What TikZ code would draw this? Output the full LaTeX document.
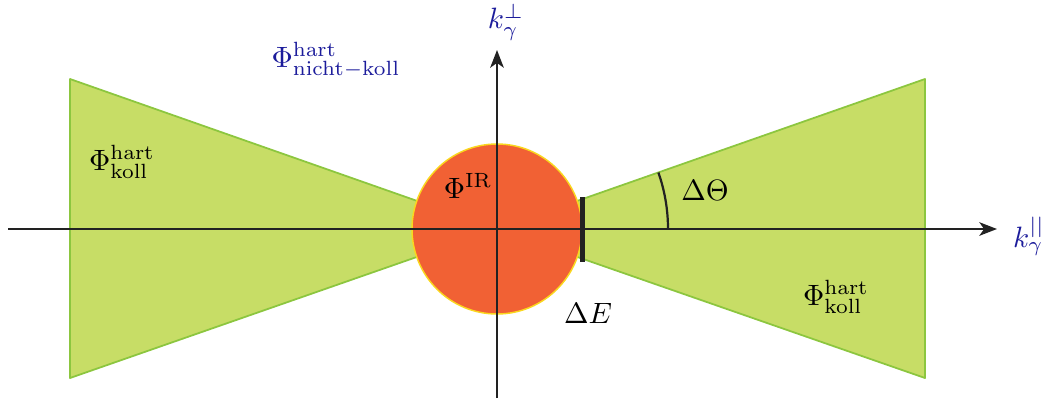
\documentclass[tikz,border=0pt]{standalone}
\usetikzlibrary{arrows.meta}
\definecolor{conegreen}{RGB}{199,221,102}
\definecolor{coneedge}{RGB}{140,198,63}
\definecolor{irred}{RGB}{241,97,52}
\definecolor{iredge}{RGB}{250,215,30}
\definecolor{axblue}{RGB}{28,28,155}
\definecolor{axblack}{RGB}{34,34,34}
\begin{document}
\begin{tikzpicture}[x=0.34pt,y=-0.34pt,
  cone/.style={fill=conegreen,draw=coneedge,line width=0.6pt,line join=round},
  axis/.style={draw=axblack,line width=0.8pt,-{Stealth[length=6pt,width=4.6pt,inset=1.6pt]}},
  bluelabel/.style={text=axblue,inner sep=0pt},
  lbl/.style={text=black,inner sep=0pt}]
\useasboundingbox (0,0) rectangle (1044,403);
\coordinate (O) at (497,229);
\coordinate (xl) at (8,229);
\coordinate (xr) at (997,229);
\coordinate (yb) at (497,398);
\coordinate (yt) at (497,50);
% cones
\path[cone] (O) -- (70,79) -- (70,378) -- cycle;
\path[cone] (O) -- (925,79) -- (925,378) -- cycle;
% IR circle
\path[fill=irred,draw=iredge,line width=0.5pt] (O) circle (85);
% axes
\draw[axis] (xl) -- (xr);
\draw[axis] (yb) -- (yt);
% Delta E bar
\coordinate (bt) at (582.5,197);
\coordinate (bb) at (582.5,262);
\draw[axblack,line width=1.8pt] (bt) -- (bb);
% angle arc
\draw[axblack,line width=0.75pt] (668,229) arc[start angle=0,end angle=-19.3,radius=171];
% labels
\node[bluelabel] (kperp) at (506,22) {$k_\gamma^{\perp}$};
\node[bluelabel] (kpar) at (1029,236) {$k_\gamma^{||}$};
\node[bluelabel] (nk) at (336,60) {$\Phi^{\mathrm{hart}}_{\mathrm{nicht-koll}}$};
\node[lbl] (kl) at (122,162) {$\Phi^{\mathrm{hart}}_{\mathrm{koll}}$};
\node[lbl] (kr) at (836,297) {$\Phi^{\mathrm{hart}}_{\mathrm{koll}}$};
\node[lbl] (ir) at (468,186) {$\Phi^{\mathrm{IR}}$};
\node[lbl] (dt) at (705,190) {$\Delta\Theta$};
\node[lbl] (de) at (588,313) {$\Delta E$};
\end{tikzpicture}
\end{document}
